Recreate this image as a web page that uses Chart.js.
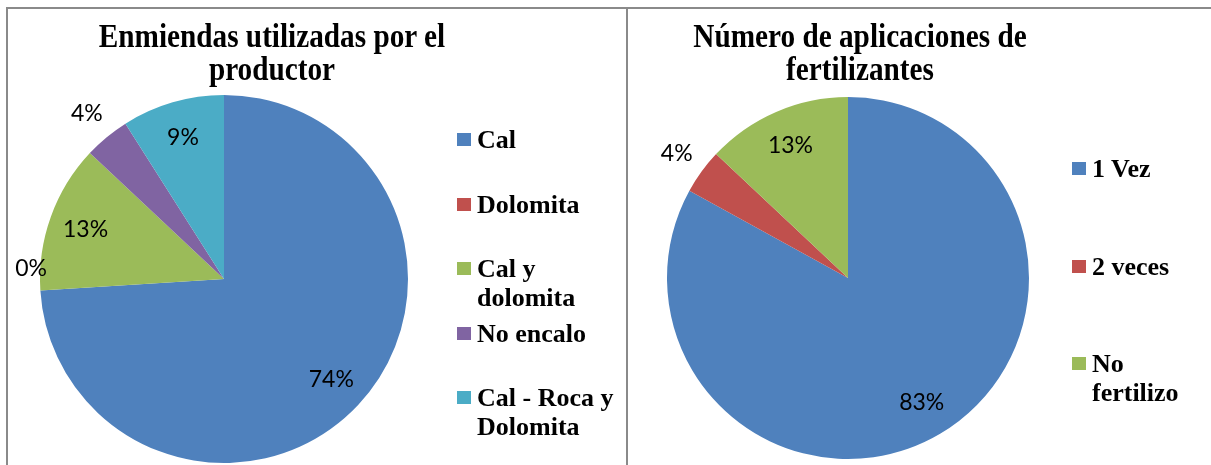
<!DOCTYPE html>
<html lang="es">
<head>
  <meta charset="UTF-8">
  <title>Enmiendas y fertilizantes</title>
  <script src="https://cdn.jsdelivr.net/npm/chart.js"></script>
  <style>
    body { margin: 0; width: 1211px; height: 465px; overflow: hidden; background: #fff; position: relative; }
    .frame { position: absolute; top: 7px; height: 470px; border-top: 2px solid #8a8a8a; border-left: 2px solid #8a8a8a; }
    canvas { position: absolute; top: 0; }
    .title { position: absolute; top: 19px; width: 420px; text-align: center; transform: scaleX(0.86);
             font: bold 34px "Liberation Serif", "Times New Roman", serif; line-height: 33px; color: #000; }
    .legend { position: absolute; font: bold 26px "Liberation Serif", "Times New Roman", serif; line-height: 29px; color: #000; }
    .legend .item { position: relative; padding-left: 20px; }
    .legend .box { position: absolute; left: 0; top: 8px; width: 14px; height: 13px; }
  </style>
</head>
<body>
<div class="frame" style="left: 6px; width: 1210px;"></div>
<div class="frame" style="left: 626px; width: 600px;"></div>

<canvas id="pie1" width="627" height="465" style="left: 0;"></canvas>
<canvas id="pie2" width="584" height="465" style="left: 627px;"></canvas>

<div class="title" style="left: 62px;">Enmiendas utilizadas por el<br>productor</div>
<div class="title" style="left: 650px;">Número de aplicaciones de<br>fertilizantes</div>

<div class="legend" id="legend1" style="left: 457px; top: 125px; width: 165px;"></div>
<div class="legend" id="legend2" style="left: 1072px; top: 154px; width: 120px;"></div>

<script>
  const enmiendasLabels = ['Cal', 'Dolomita', 'Cal y dolomita', 'No encalo', 'Cal - Roca y Dolomita'];
  const enmiendasValues = [74, 0, 13, 4, 9];

  const aplicacionesLabels = ['1 Vez', '2 veces', 'No fertilizo'];
  const aplicacionesValues = [83, 4, 13];

  const colors = ['#4F81BD', '#C0504D', '#9BBB59', '#8064A2', '#4BACC6'];

  // etiquetas de porcentaje sobre cada sector
  const pctLabels = {
    id: 'pctLabels',
    afterDatasetsDraw(chart) {
      const ctx = chart.ctx;
      const data = chart.data.datasets[0].data;
      const total = data.reduce((a, b) => a + b, 0);
      ctx.save();
      ctx.font = '23px Lato, "Open Sans", sans-serif';
      ctx.fillStyle = '#000';
      ctx.textAlign = 'center';
      ctx.textBaseline = 'middle';
      chart.getDatasetMeta(0).data.forEach((arc, i) => {
        const p = arc.getProps(['x', 'y', 'startAngle', 'endAngle', 'outerRadius'], true);
        const mid = (p.startAngle + p.endAngle) / 2;
        const pct = Math.round(data[i] / total * 100);
        const f = pct < 5 ? 1.17 : 0.8;
        let x = p.x + Math.cos(mid) * p.outerRadius * f;
        let y = p.y + Math.sin(mid) * p.outerRadius * f;
        if (pct === 0) { x += 22; y -= 24; }
        ctx.fillText(pct + '%', x, y);
      });
      ctx.restore();
    }
  };

  function makePie(id, labels, values, padding) {
    return new Chart(document.getElementById(id), {
      type: 'pie',
      data: {
        labels: labels,
        datasets: [{
          data: values,
          backgroundColor: colors.slice(0, values.length),
          borderWidth: 0
        }]
      },
      options: {
        responsive: false,
        animation: false,
        layout: { padding: padding },
        plugins: {
          legend: { display: false },
          tooltip: { enabled: false }
        }
      },
      plugins: [pctLabels]
    });
  }

  function buildLegend(chart, id, pitch) {
    const box = document.getElementById(id);
    chart.data.labels.forEach((label, i) => {
      const item = document.createElement('div');
      item.className = 'item';
      item.style.height = pitch + 'px';
      item.innerHTML = '<span class="box" style="background:' + chart.data.datasets[0].backgroundColor[i] + '"></span>' + label;
      box.appendChild(item);
    });
  }

  const chart1 = makePie('pie1', enmiendasLabels, enmiendasValues, { left: 40, right: 219, top: 95, bottom: 2 });
  const chart2 = makePie('pie2', aplicacionesLabels, aplicacionesValues, { left: 40, right: 182, top: 97, bottom: 6 });

  buildLegend(chart1, 'legend1', 64.6);
  buildLegend(chart2, 'legend2', 97.5);
</script>
</body>
</html>
